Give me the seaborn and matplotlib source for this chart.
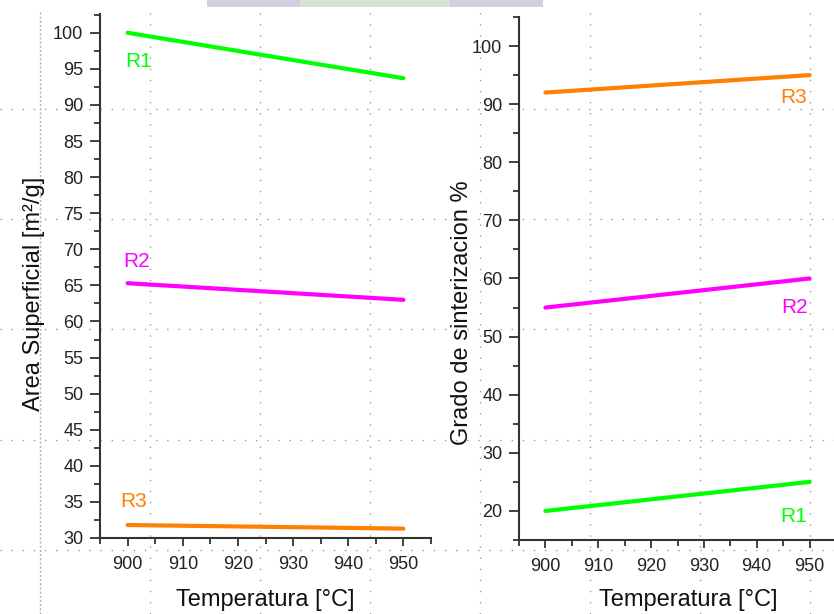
import matplotlib
matplotlib.use("Agg")
import matplotlib.pyplot as plt
from matplotlib.lines import Line2D
from matplotlib.patches import Rectangle
from matplotlib.ticker import MultipleLocator
import seaborn as sns
import pandas as pd

# Temperatures (°C) at which each series is evaluated
temperatura = [900, 950]

# Specific surface area [m²/g]
area_r1 = [100.0, 93.7]
area_r2 = [65.3, 63.0]
area_r3 = [31.8, 31.3]

# Degree of sintering [%]
sint_r1 = [20.0, 25.0]
sint_r2 = [55.0, 60.0]
sint_r3 = [92.0, 95.0]

series = ["R1", "R2", "R3"]
colores = {"R1": "#00FF00", "R2": "#FF00FF", "R3": "#FF8000"}

sns.set_style("ticks")
plt.rcParams["font.family"] = ["Liberation Sans", "DejaVu Sans"]

def to_frame(values):
    rows = []
    for name, vals in zip(series, values):
        for t, v in zip(temperatura, vals):
            rows.append({"Temperatura": t, "valor": v, "serie": name})
    return pd.DataFrame(rows)

df_area = to_frame([area_r1, area_r2, area_r3])
df_sint = to_frame([sint_r1, sint_r2, sint_r3])

fig = plt.figure(figsize=(8.34, 6.14), dpi=100)
fig.patch.set_facecolor("white")
W, H = 834, 614

# faint slide background: header seal strip and dotted page grid
fig.add_artist(Rectangle((207 / W, 1 - 7 / H), (543 - 207) / W, 7 / H,
                         transform=fig.transFigure, facecolor="#cfcfe0",
                         edgecolor="none", zorder=0))
fig.add_artist(Rectangle((300 / W, 1 - 7 / H), (450 - 300) / W, 7 / H,
                         transform=fig.transFigure, facecolor="#d3e6d6",
                         edgecolor="none", zorder=0))
for ypx in [109, 219, 329, 440, 550]:
    fig.add_artist(Line2D([0, 1], [1 - ypx / H] * 2, transform=fig.transFigure,
                          color="#9a9a9a", lw=1.0, ls=(0, (1, 7)), zorder=0))
for xpx in [150, 260, 370, 480, 590, 700, 810]:
    fig.add_artist(Line2D([xpx / W] * 2, [0, 1 - 10 / H], transform=fig.transFigure,
                          color="#9a9a9a", lw=1.0, ls=(0, (1, 7)), zorder=0))
fig.add_artist(Line2D([40 / W] * 2, [0, 1 - 10 / H], transform=fig.transFigure,
                      color="#b0b0b0", lw=1.0, ls=(0, (1.5, 1.5)), zorder=0))

ax1 = fig.add_axes([100 / W, 1 - 538 / H, 331 / W, 524 / H])
ax2 = fig.add_axes([519 / W, 1 - 540 / H, 317 / W, 523 / H])

sns.lineplot(data=df_area, x="Temperatura", y="valor", hue="serie",
             palette=colores, linewidth=3.0, legend=False, ax=ax1)
sns.lineplot(data=df_sint, x="Temperatura", y="valor", hue="serie",
             palette=colores, linewidth=3.0, legend=False, ax=ax2)

for ax in (ax1, ax2):
    ax.set_facecolor("none")
    sns.despine(ax=ax)
    for s in ("left", "bottom"):
        ax.spines[s].set_color("#333333")
        ax.spines[s].set_linewidth(1.5)
    ax.set_xlim(895, 955)
    ax.xaxis.set_major_locator(MultipleLocator(10))
    ax.xaxis.set_minor_locator(MultipleLocator(5))
    ax.tick_params(axis="both", which="both", colors="#333333", width=1.3,
                   labelsize=13, labelcolor="#222222")
    ax.tick_params(axis="x", which="major", length=6, pad=7)
    ax.tick_params(axis="x", which="minor", length=4)
    ax.tick_params(axis="y", which="major", length=7, pad=5)
    ax.tick_params(axis="y", which="minor", length=4)
    ax.set_xlabel("Temperatura [°C]", fontsize=17, color="#111111")

ax1.set_ylim(30, 102.6)
ax1.yaxis.set_major_locator(MultipleLocator(5))
ax1.yaxis.set_minor_locator(MultipleLocator(2.5))
ax1.set_ylabel("Area Superficial [m²/g]", fontsize=17, color="#111111")
ax1.yaxis.set_label_coords(-0.165, 0.466)
ax1.xaxis.set_label_coords(0.5, -0.097)

ax2.set_ylim(15, 105)
ax2.yaxis.set_major_locator(MultipleLocator(10))
ax2.yaxis.set_minor_locator(MultipleLocator(5))
ax2.set_ylabel("Grado de sinterizacion %", fontsize=17, color="#111111")
ax2.yaxis.set_label_coords(-0.145, 0.434)
ax2.xaxis.set_label_coords(0.533, -0.094)

# series labels
ax1.text(899.5, 95.3, "R1", color=colores["R1"], fontsize=15, ha="left", va="baseline")
ax1.text(899.3, 67.5, "R2", color=colores["R2"], fontsize=15, ha="left", va="baseline")
ax1.text(898.7, 34.3, "R3", color=colores["R3"], fontsize=15, ha="left", va="baseline")
ax2.text(949.6, 90.2, "R3", color=colores["R3"], fontsize=15, ha="right", va="baseline")
ax2.text(949.6, 54.1, "R2", color=colores["R2"], fontsize=15, ha="right", va="baseline")
ax2.text(949.6, 18.1, "R1", color=colores["R1"], fontsize=15, ha="right", va="baseline")

fig.savefig("out.png", dpi=100, facecolor="white")
